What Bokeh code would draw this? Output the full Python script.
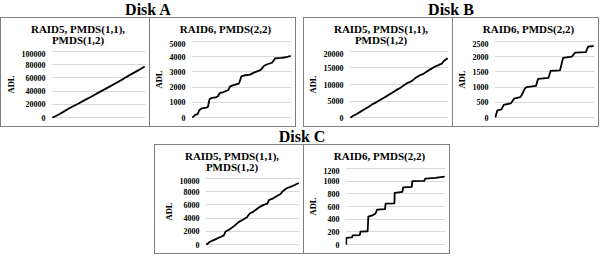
from bokeh.plotting import figure
from bokeh.layouts import row, column, Spacer
from bokeh.models import Range1d, FixedTicker, NumeralTickFormatter, Div
from bokeh.embed import file_html
from bokeh.resources import INLINE

# ---------------- data ----------------
disk_titles = ["Disk A", "Disk B", "Disk C"]
left_title = ["RAID5, PMDS(1,1),", "PMDS(1,2)"]
right_title = ["RAID6, PMDS(2,2)"]
y_label = "ADL"

# Disk A
a5_x = [0, 4, 8, 12, 17, 22, 28, 35, 42, 50, 57, 63, 70, 77, 84, 90, 95, 100]
a5_y = [0, 2500, 5500, 8800, 13000, 16800, 21000, 26500, 31500, 37800, 43000,
        47500, 53000, 58500, 64500, 69000, 73000, 77200]
a6_x = [0, 1.6, 3.2, 5.4, 7.3, 9.5, 14.3, 15.9, 17.5, 20, 23.8, 26, 27.9, 31.7, 36.5,
        38.4, 42.9, 47.6, 49.8, 54, 58.7, 62.5, 66.7, 69.8, 73, 76.2, 81, 84.1, 90.5,
        95.2, 100]
a6_y = [0, 100, 200, 220, 500, 600, 650, 700, 1200, 1300, 1320, 1400, 1600, 1680, 1800,
        2050, 2150, 2250, 2700, 2780, 2820, 2950, 3050, 3150, 3400, 3500, 3600, 3880,
        3920, 3960, 4050]

# Disk B
b5_x = [0, 3, 7, 11, 15, 19, 23, 27, 31, 35, 39, 43, 47, 51, 55, 59, 63, 67, 71, 75,
        79, 83, 87, 91, 94, 96, 100]
b5_y = [0, 600, 1200, 1900, 2600, 3300, 4100, 4700, 5400, 6100, 6800, 7500, 8300,
        8900, 9800, 10500, 11000, 12000, 12700, 13200, 14000, 14700, 15400, 15900,
        16300, 17100, 17900]
b6_x = [0, 1, 2.2, 6.3, 8.6, 15.9, 19, 25.4, 27, 30, 31.7, 41.3, 43.5, 54, 56.2, 65.7,
        68.9, 77.8, 81, 92, 94.3, 100]
b6_y = [0, 120, 240, 270, 420, 470, 620, 670, 750, 950, 1000, 1040, 1270, 1300, 1530,
        1550, 1960, 2000, 2130, 2150, 2330, 2350]

# Disk C
c5_x = [0, 4, 8, 12, 16, 19, 21, 25, 30, 35, 40, 44, 47, 50, 54, 58, 62, 66, 68, 72,
        76, 80, 83, 87, 91, 95, 100]
c5_y = [0, 450, 700, 950, 1200, 1400, 2000, 2300, 2800, 3400, 3800, 4150, 4700, 4900,
        5300, 5700, 6000, 6200, 6750, 6950, 7300, 7600, 8100, 8500, 8700, 8950, 9300]
c6_x = [0, 0, 5.8, 6.4, 13.7, 14.4, 21.7, 22.4, 26.5, 29.7, 31.3, 39.3, 40, 48.9, 49.2,
        56.9, 57.8, 66.5, 67.1, 79.2, 80.2, 90.4, 100]
c6_y = [0, 105, 115, 145, 148, 205, 210, 440, 460, 490, 550, 560, 645, 650, 815, 830,
        900, 910, 1000, 1005, 1040, 1050, 1070]

# axis maxima and tick steps (left panel, right panel) per disk
y_max = [(100000, 5000), (20000, 2500), (10000, 1200)]
y_step = [(20000, 1000), (5000, 500), (2000, 200)]

# ---------------- style ----------------
FONT = "Liberation Serif"
BORDER = "#808080"
GRID = "#d9d9d9"
PH = 108          # panel height (inside border)
LW, RW = 148, 145  # panel widths
BOTTOM = 8


def text_div(lines, width, height, size, lh, pad_top, shift=0):
    style = ("box-sizing:border-box;width:%dpx;height:%dpx;margin:0;padding:%dpx 0 0 %dpx;"
             "text-align:center;font-family:'Liberation Serif',serif;font-weight:bold;"
             "font-size:%s;line-height:%s;color:#000;white-space:nowrap;"
             % (width, height, pad_top, 2 * shift, size, lh))
    html = '<div style="%s">%s</div>' % (style, "<br>".join(lines))
    return Div(text=html, width=width, height=height, margin=0)


def plot_fig(xs, ys, ymax, ystep, width, height, left):
    pad = ymax * 0.012
    p = figure(width=width, height=height, x_range=Range1d(-0.8, 100.8),
               y_range=Range1d(-pad, ymax + pad), output_backend="svg", title=None,
               toolbar_location=None, x_axis_location=None, frame_align=False,
               min_border_left=left, min_border_right=4, min_border_top=0,
               min_border_bottom=BOTTOM, outline_line_color=None,
               background_fill_color="white", border_fill_color="white")
    ticks = list(range(0, ymax + 1, ystep))
    ax = p.yaxis[0]
    ax.ticker = FixedTicker(ticks=ticks)
    ax.formatter = NumeralTickFormatter(format="0")
    ax.axis_label = y_label
    ax.axis_label_text_font = FONT
    ax.axis_label_text_font_style = "bold"
    ax.axis_label_text_font_size = "8.5px"
    ax.axis_label_text_color = "black"
    ax.axis_label_standoff = 3
    ax.major_label_text_font = FONT
    ax.major_label_text_font_style = "bold"
    ax.major_label_text_font_size = "8px"
    ax.major_label_text_color = "black"
    ax.major_label_standoff = 6
    ax.axis_line_color = None
    ax.major_tick_line_color = None
    ax.minor_tick_line_color = None
    ax.major_tick_out = 0
    ax.major_tick_in = 0
    ax.minor_tick_out = 0
    p.xgrid.visible = False
    p.ygrid.grid_line_color = GRID
    p.ygrid.grid_line_width = 1
    p.line(xs, ys, line_color="black", line_width=1.8, line_join="round")
    return p


def panel(title_lines, xs, ys, ymax, ystep, width, left):
    th = 32 if len(title_lines) > 1 else 22
    t = text_div(title_lines, width, th, "11px", "11px", 6, shift=3)
    p = plot_fig(xs, ys, ymax, ystep, width, PH - th, left)
    return column(t, p)


def hline(w):
    return Spacer(width=w, height=1, styles={"background-color": BORDER})


def vline(h):
    return Spacer(width=1, height=h, styles={"background-color": BORDER})


data = [((a5_x, a5_y), (a6_x, a6_y)), ((b5_x, b5_y), (b6_x, b6_y)),
        ((c5_x, c5_y), (c6_x, c6_y))]
lefts = [(50, 40), (45, 38), (50, 40)]
BOXW = LW + RW + 3
TH = 17

disks = []
for i in range(3):
    (lx, ly), (rx, ry) = data[i]
    pl = panel(left_title, lx, ly, y_max[i][0], y_step[i][0], LW, lefts[i][0])
    pr = panel(right_title, rx, ry, y_max[i][1], y_step[i][1], RW, lefts[i][1])
    box = column(hline(BOXW),
                 row(vline(PH), pl, vline(PH), pr, vline(PH)),
                 hline(BOXW))
    head = text_div([disk_titles[i]], BOXW, TH, "16px", "17px", 1)
    disks.append(column(head, box))

GAP = 7
CX = 154
layout = column(
    row(disks[0], Spacer(width=GAP, height=TH + PH + 2), disks[1]),
    row(Spacer(width=CX, height=TH + PH + 2), disks[2]),
)

open("out.html", "w").write(file_html(layout, INLINE))
